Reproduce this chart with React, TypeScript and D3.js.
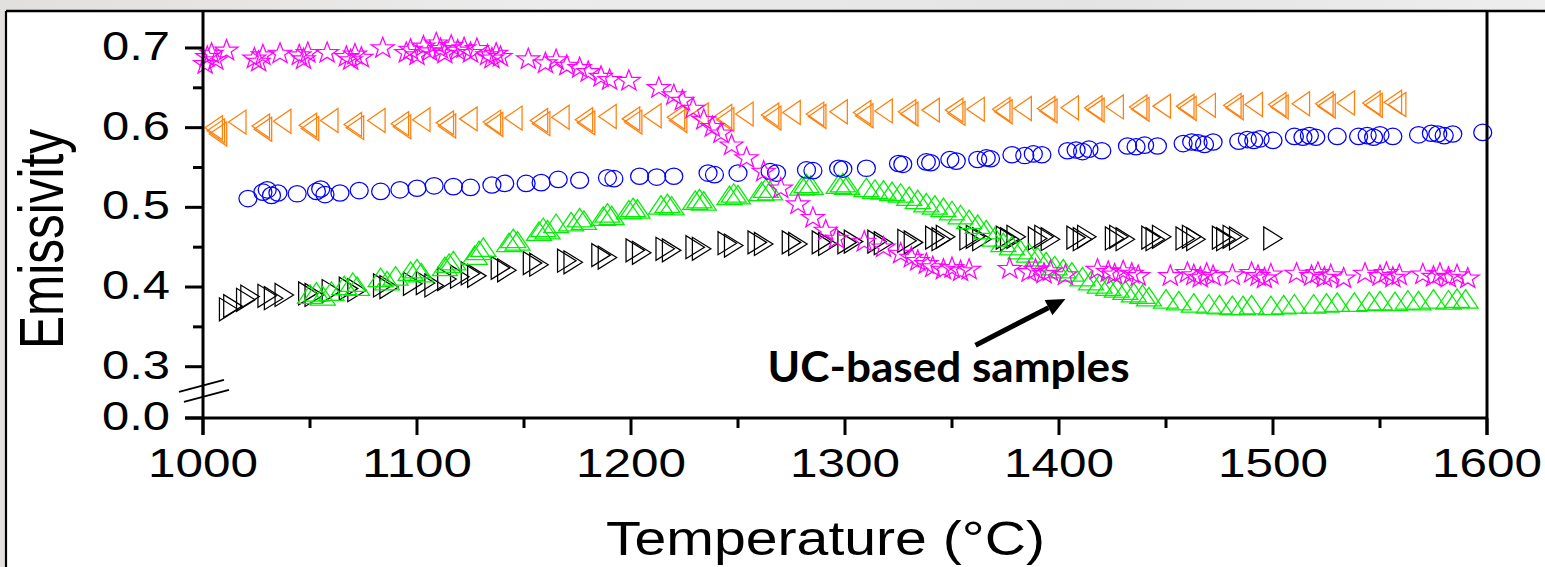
import React from 'react';
import * as d3 from 'd3';

// ---- Data: temperature (°C) vs. emissivity for five samples ----
const starSeries: [number, number][] = [
  [1001, 0.681], [1002, 0.690], [1004, 0.694], [1006, 0.686], [1011, 0.698],
  [1024, 0.688], [1026, 0.684], [1028, 0.692], [1036, 0.694],
  [1045, 0.692], [1047, 0.687], [1049, 0.695], [1058, 0.695],
  [1067, 0.690], [1069, 0.686], [1071, 0.693], [1074, 0.689],
  [1084, 0.701],
  [1095, 0.695], [1097, 0.699], [1100, 0.692], [1103, 0.703], [1106, 0.697], [1109, 0.707],
  [1111, 0.700], [1113, 0.694], [1116, 0.704], [1119, 0.698], [1122, 0.701], [1125, 0.695], [1128, 0.700],
  [1133, 0.692], [1135, 0.688], [1137, 0.694], [1139, 0.690],
  [1152, 0.687],
  [1160, 0.682], [1165, 0.686], [1170, 0.679], [1176, 0.676], [1180, 0.671], [1186, 0.665], [1190, 0.661], [1199, 0.660],
  [1213, 0.651], [1220, 0.642], [1224, 0.635], [1229, 0.625], [1234, 0.611], [1238, 0.602], [1242, 0.594], [1247, 0.579], [1254, 0.563],
  [1262, 0.546], [1270, 0.525],
  [1278, 0.505], [1285, 0.488], [1291, 0.472], [1296, 0.462], [1309, 0.458], [1318, 0.451], [1326, 0.443], [1331, 0.438],
  [1334, 0.434], [1338, 0.430], [1341, 0.426], [1346, 0.423], [1350, 0.425], [1354, 0.421], [1358, 0.423],
  [1377, 0.424], [1386, 0.420], [1389, 0.423], [1393, 0.418], [1396, 0.421], [1403, 0.416],
  [1418, 0.423], [1423, 0.420], [1426, 0.417], [1430, 0.421], [1434, 0.418], [1437, 0.415],
  [1452, 0.415], [1460, 0.419], [1463, 0.416], [1466, 0.413], [1469, 0.418], [1472, 0.415],
  [1481, 0.416], [1490, 0.419], [1493, 0.415], [1496, 0.412], [1499, 0.417],
  [1511, 0.418], [1518, 0.415], [1521, 0.419], [1524, 0.413], [1527, 0.416], [1533, 0.412],
  [1543, 0.418], [1550, 0.415], [1553, 0.419], [1556, 0.413], [1559, 0.416],
  [1570, 0.417], [1575, 0.414], [1578, 0.418], [1582, 0.413], [1586, 0.416], [1591, 0.412],
];

const leftTriSeries: [number, number][] = [
  [1005, 0.600], [1006, 0.596], [1007, 0.592], [1016, 0.607],
  [1027, 0.602], [1028, 0.598], [1037, 0.608],
  [1049, 0.603], [1050, 0.599], [1059, 0.609],
  [1070, 0.604], [1071, 0.600], [1081, 0.609],
  [1092, 0.605], [1093, 0.601], [1102, 0.610],
  [1113, 0.606], [1114, 0.602], [1124, 0.611],
  [1135, 0.607], [1136, 0.604], [1145, 0.612],
  [1157, 0.609], [1158, 0.605], [1167, 0.613],
  [1178, 0.610], [1179, 0.606], [1189, 0.614],
  [1200, 0.611], [1201, 0.607], [1210, 0.615],
  [1221, 0.613], [1222, 0.609], [1232, 0.616],
  [1243, 0.614], [1244, 0.610], [1253, 0.617],
  [1265, 0.616], [1266, 0.612], [1275, 0.619],
  [1286, 0.617], [1287, 0.614], [1297, 0.620],
  [1308, 0.619], [1309, 0.615], [1318, 0.621],
  [1329, 0.620], [1330, 0.617], [1340, 0.622],
  [1351, 0.622], [1352, 0.618], [1361, 0.623],
  [1373, 0.623], [1374, 0.620], [1383, 0.624],
  [1394, 0.624], [1395, 0.621], [1405, 0.625],
  [1416, 0.625], [1417, 0.622], [1426, 0.626],
  [1437, 0.626], [1438, 0.623], [1448, 0.627],
  [1459, 0.627], [1460, 0.624], [1469, 0.628],
  [1481, 0.628], [1482, 0.625], [1491, 0.629],
  [1502, 0.629], [1503, 0.626], [1513, 0.630],
  [1524, 0.630], [1525, 0.627], [1534, 0.631],
  [1546, 0.631], [1547, 0.628], [1556, 0.632], [1558, 0.629],
];

const circleSeries: [number, number][] = [
  [1021, 0.511], [1028, 0.519], [1030, 0.522], [1032, 0.515], [1035, 0.518], [1044, 0.517],
  [1053, 0.520], [1055, 0.523], [1057, 0.516], [1064, 0.518], [1073, 0.521], [1083, 0.520],
  [1092, 0.522], [1100, 0.524], [1108, 0.527], [1117, 0.526], [1125, 0.525], [1135, 0.528],
  [1141, 0.530], [1151, 0.530], [1158, 0.531], [1166, 0.535], [1176, 0.534], [1189, 0.537],
  [1192, 0.536], [1204, 0.539], [1212, 0.538], [1220, 0.539], [1236, 0.543], [1239, 0.541],
  [1250, 0.543], [1265, 0.545], [1268, 0.543], [1282, 0.547], [1285, 0.546], [1297, 0.549],
  [1299, 0.548], [1310, 0.549], [1325, 0.555], [1327, 0.554], [1338, 0.557], [1340, 0.556],
  [1349, 0.560], [1352, 0.558], [1362, 0.560], [1366, 0.562], [1368, 0.561], [1378, 0.566],
  [1384, 0.565], [1388, 0.567], [1392, 0.566], [1404, 0.571], [1408, 0.572], [1411, 0.570],
  [1414, 0.573], [1420, 0.571], [1432, 0.577], [1436, 0.576], [1440, 0.578], [1446, 0.577],
  [1458, 0.580], [1462, 0.582], [1465, 0.581], [1468, 0.579], [1472, 0.582], [1484, 0.583],
  [1488, 0.585], [1491, 0.584], [1494, 0.586], [1500, 0.584], [1510, 0.589], [1514, 0.588],
  [1517, 0.590], [1520, 0.588], [1530, 0.589], [1540, 0.589], [1544, 0.590], [1547, 0.588],
  [1550, 0.591], [1556, 0.589], [1568, 0.591], [1574, 0.593], [1577, 0.592], [1580, 0.590],
  [1584, 0.592], [1598, 0.594],
];

const upTriSeries: [number, number][] = [
  [1050, 0.391], [1053, 0.394], [1056, 0.389], [1060, 0.395], [1066, 0.402], [1070, 0.406],
  [1072, 0.401], [1083, 0.412], [1086, 0.408], [1090, 0.414], [1097, 0.420], [1100, 0.423],
  [1102, 0.418], [1113, 0.426], [1115, 0.430], [1117, 0.433], [1127, 0.440], [1129, 0.446],
  [1131, 0.450], [1143, 0.456], [1145, 0.461], [1147, 0.458], [1157, 0.470], [1159, 0.475],
  [1161, 0.472], [1165, 0.480], [1172, 0.482], [1176, 0.487], [1178, 0.484], [1187, 0.489],
  [1189, 0.493], [1191, 0.490], [1199, 0.497], [1201, 0.500], [1203, 0.498], [1214, 0.503],
  [1217, 0.505], [1219, 0.502], [1230, 0.509], [1232, 0.511], [1234, 0.508], [1246, 0.515],
  [1248, 0.518], [1250, 0.516], [1261, 0.520], [1263, 0.524], [1265, 0.521], [1280, 0.527],
  [1282, 0.530], [1284, 0.528], [1297, 0.529], [1299, 0.531], [1301, 0.528], [1310, 0.525],
  [1314, 0.523], [1318, 0.522], [1322, 0.520], [1326, 0.518], [1330, 0.514], [1334, 0.510],
  [1338, 0.506], [1342, 0.503], [1346, 0.500], [1350, 0.496], [1354, 0.491], [1358, 0.485],
  [1362, 0.479], [1366, 0.472], [1370, 0.463], [1374, 0.456], [1378, 0.452], [1382, 0.447],
  [1386, 0.443], [1390, 0.438], [1394, 0.432], [1398, 0.427], [1402, 0.423], [1406, 0.419],
  [1411, 0.413], [1415, 0.408], [1419, 0.404], [1423, 0.401], [1427, 0.399], [1431, 0.396],
  [1435, 0.393], [1439, 0.391], [1442, 0.388], [1450, 0.385], [1456, 0.383], [1463, 0.380],
  [1470, 0.379], [1475, 0.378], [1481, 0.377], [1486, 0.377], [1490, 0.378], [1499, 0.377],
  [1505, 0.378], [1510, 0.379], [1519, 0.379], [1525, 0.380], [1530, 0.381], [1538, 0.381],
  [1545, 0.382], [1550, 0.383], [1557, 0.382], [1563, 0.384], [1568, 0.383], [1575, 0.385],
  [1582, 0.384], [1586, 0.386], [1590, 0.385],
];

const rightTriSeries: [number, number][] = [
  [1012, 0.372], [1014, 0.376], [1020, 0.384], [1022, 0.388], [1030, 0.389], [1033, 0.386],
  [1038, 0.390], [1049, 0.392], [1052, 0.390], [1060, 0.395], [1068, 0.398], [1072, 0.396],
  [1084, 0.402], [1087, 0.400], [1098, 0.404], [1104, 0.405], [1108, 0.402], [1114, 0.410],
  [1120, 0.413], [1125, 0.417], [1128, 0.414], [1139, 0.424], [1142, 0.421], [1154, 0.430],
  [1157, 0.428], [1170, 0.433], [1173, 0.431], [1186, 0.440], [1189, 0.437], [1202, 0.446],
  [1205, 0.443], [1216, 0.448], [1219, 0.446], [1230, 0.450], [1233, 0.448], [1245, 0.455],
  [1248, 0.452], [1259, 0.456], [1262, 0.454], [1275, 0.456], [1278, 0.454], [1289, 0.456],
  [1292, 0.454], [1301, 0.456], [1304, 0.457], [1315, 0.457], [1318, 0.455], [1329, 0.458],
  [1332, 0.456], [1342, 0.462], [1345, 0.460], [1347, 0.463], [1358, 0.461], [1361, 0.463],
  [1364, 0.460], [1375, 0.462], [1377, 0.460], [1380, 0.463], [1390, 0.461], [1393, 0.463],
  [1396, 0.460], [1408, 0.462], [1411, 0.460], [1413, 0.463], [1426, 0.461], [1428, 0.463],
  [1431, 0.460], [1443, 0.462], [1445, 0.460], [1448, 0.463], [1459, 0.461], [1462, 0.463],
  [1464, 0.460], [1476, 0.462], [1478, 0.460], [1481, 0.463], [1484, 0.461], [1500, 0.461],
];

// ---- Axes ----
const xTicks = [1000, 1100, 1200, 1300, 1400, 1500, 1600];
const xMinorTicks = [1050, 1150, 1250, 1350, 1450, 1550];
const yTicks = [0.0, 0.3, 0.4, 0.5, 0.6, 0.7];
const yMinorTicks = [0.35, 0.45, 0.55, 0.65];
const xDomain = [1000, 1600];
const yBreakValue = 0.3;
const yTop = 0.7464;

const xTitle = 'Temperature (°C)';
const yTitle = 'Emissivity';
const noteText = 'UC-based samples';
// arrow in data coordinates: tail, head
const arrowFrom: [number, number] = [1361, 0.327];
const arrowTo: [number, number] = [1403, 0.385];

// ---- Layout ----
const W = 1545;
const H = 567;
const PLOT = { left: 203, right: 1487, top: 11, bottom: 418 };
const BREAK_SPAN = 51.3; // pixels given to the 0 – 0.3 segment below the axis break
const FONT = '"Liberation Sans", Arial, Helvetica, sans-serif';

type Shape = 'star' | 'left' | 'circle' | 'up' | 'right';

function markerPath(shape: Shape, cx: number, cy: number): string {
  switch (shape) {
    case 'star': {
      const R = 11, r = 4.4, sx = 1.1;
      const pts: string[] = [];
      for (let k = 0; k < 10; k++) {
        const a = -Math.PI / 2 + (k * Math.PI) / 5;
        const rad = k % 2 === 0 ? R : r;
        pts.push(`${(cx + sx * rad * Math.cos(a)).toFixed(2)},${(cy + 1 + rad * Math.sin(a)).toFixed(2)}`);
      }
      return `M${pts.join('L')}Z`;
    }
    case 'left': {
      const w = 17.5, h = 24;
      return `M${cx - w / 2},${cy}L${cx + w / 2},${cy - h / 2}L${cx + w / 2},${cy + h / 2}Z`;
    }
    case 'right': {
      const w = 18.5, h = 23;
      return `M${cx + w / 2},${cy}L${cx - w / 2},${cy - h / 2}L${cx - w / 2},${cy + h / 2}Z`;
    }
    case 'up': {
      const w = 25, h = 18.5;
      return `M${cx},${cy - h / 2}L${cx + w / 2},${cy + h / 2}L${cx - w / 2},${cy + h / 2}Z`;
    }
    case 'circle':
    default: {
      const rx = 9, ry = 8.2;
      return `M${cx - rx},${cy}A${rx},${ry} 0 1,0 ${cx + rx},${cy}A${rx},${ry} 0 1,0 ${cx - rx},${cy}Z`;
    }
  }
}

const series: { key: string; data: [number, number][]; color: string; shape: Shape }[] = [
  { key: 'right', data: rightTriSeries, color: '#000000', shape: 'right' },
  { key: 'up', data: upTriSeries, color: '#00ee00', shape: 'up' },
  { key: 'circle', data: circleSeries, color: '#0000ff', shape: 'circle' },
  { key: 'left', data: leftTriSeries, color: '#ff7f0a', shape: 'left' },
  { key: 'star', data: starSeries, color: '#ff00ff', shape: 'star' },
];

export default function App() {
  const x = d3.scaleLinear().domain(xDomain).range([PLOT.left, PLOT.right]);
  const y = d3
    .scaleLinear()
    .domain([0, yBreakValue, yTop])
    .range([PLOT.bottom, PLOT.bottom - BREAK_SPAN, PLOT.top]);
  const fmt = d3.format('.1f');

  const majorLen = 18;
  const minorLen = 10;
  const axisW = 3;

  // axis break marks, between 0.0 and 0.3
  const breakMid = (y(0) + y(yBreakValue)) / 2 - 2;
  const breakLines = [breakMid - 5, breakMid + 5];

  // arrow geometry
  const ax0 = x(arrowFrom[0]), ay0 = y(arrowFrom[1]);
  const ax1 = x(arrowTo[0]), ay1 = y(arrowTo[1]);
  const len = Math.hypot(ax1 - ax0, ay1 - ay0);
  const ux = (ax1 - ax0) / len, uy = (ay1 - ay0) / len;
  const nx = -uy, ny = ux;
  const headL = 19, headW = 8.5;
  const bx = ax1 - ux * headL, by = ay1 - uy * headL;

  return (
    <svg
      width={W}
      height={H}
      viewBox={`0 0 ${W} ${H}`}
      style={{ position: 'absolute', left: 0, top: 0, display: 'block' }}
    >
      <defs>
        <linearGradient id="bgGrad" x1="0" y1="0" x2="1" y2="0">
          <stop offset="0" stopColor="#e2e0de" />
          <stop offset="0.35" stopColor="#ececec" />
          <stop offset="0.7" stopColor="#e4e4e4" />
          <stop offset="1" stopColor="#eeeeee" />
        </linearGradient>
      </defs>
      <rect x={0} y={0} width={W} height={H} fill="url(#bgGrad)" />
      <rect x={6} y={11} width={W - 6} height={H - 11} fill="#ffffff" />
      {/* panel frame */}
      <line x1={6} x2={W} y1={11} y2={11} stroke="#000" strokeWidth={2.5} />
      <line x1={6} x2={6} y1={11} y2={H} stroke="#000" strokeWidth={2.2} />

      {/* scatter markers */}
      <g fill="none" strokeWidth={1.25}>
        {series.map((s) => (
          <g key={s.key} stroke={s.color}>
            {s.data.map(([t, v], i) => (
              <path key={i} d={markerPath(s.shape, x(t), y(v))} />
            ))}
          </g>
        ))}
      </g>

      {/* axes */}
      <g stroke="#000" strokeWidth={axisW} strokeLinecap="butt">
        <line x1={PLOT.left} x2={PLOT.left} y1={PLOT.top} y2={PLOT.bottom + majorLen - 1} />
        <line x1={PLOT.right} x2={PLOT.right} y1={PLOT.top} y2={PLOT.bottom + majorLen - 1} />
        <line x1={PLOT.left - majorLen} x2={PLOT.right} y1={PLOT.bottom} y2={PLOT.bottom} />
        {xTicks.map((t) => (
          <line key={`xt${t}`} x1={x(t)} x2={x(t)} y1={PLOT.bottom} y2={PLOT.bottom + majorLen - 1} />
        ))}
        {xMinorTicks.map((t) => (
          <line key={`xm${t}`} x1={x(t)} x2={x(t)} y1={PLOT.bottom} y2={PLOT.bottom + minorLen} />
        ))}
        {yTicks.map((v) => (
          <line key={`yt${v}`} x1={PLOT.left - majorLen} x2={PLOT.left} y1={y(v)} y2={y(v)} />
        ))}
        {yMinorTicks.map((v) => (
          <line key={`ym${v}`} x1={PLOT.left - minorLen} x2={PLOT.left} y1={y(v)} y2={y(v)} />
        ))}
      </g>

      {/* axis break */}
      <g stroke="#000" strokeWidth={2}>
        {breakLines.map((by0, i) => (
          <line
            key={i}
            x1={PLOT.left - 24 + i * 5}
            y1={by0 + 6.5}
            x2={PLOT.left + 21 + i * 5}
            y2={by0 - 5.5}
          />
        ))}
      </g>

      {/* tick labels */}
      <g fontFamily={FONT} fontSize={41} fill="#000">
        {yTicks.map((v) => (
          <text
            key={`yl${v}`}
            x={170 - 68}
            y={y(v) + 12}
            textLength={68}
            lengthAdjust="spacingAndGlyphs"
          >
            {fmt(v)}
          </text>
        ))}
        {xTicks.map((t) => (
          <text
            key={`xl${t}`}
            x={x(t) - 55}
            y={PLOT.bottom + 59}
            textLength={110}
            lengthAdjust="spacingAndGlyphs"
          >
            {t}
          </text>
        ))}
      </g>

      {/* axis titles */}
      <text
        x={606}
        y={555}
        fontFamily={FONT}
        fontSize={49}
        textLength={439}
        lengthAdjust="spacingAndGlyphs"
        fill="#000"
      >
        {xTitle}
      </text>
      <text
        transform={`translate(63, ${239 + 110}) rotate(-90)`}
        x={0}
        y={0}
        fontFamily={FONT}
        fontSize={63}
        textLength={220}
        lengthAdjust="spacingAndGlyphs"
        fill="#000"
      >
        {yTitle}
      </text>

      {/* annotation */}
      <line x1={ax0} y1={ay0} x2={bx} y2={by} stroke="#000" strokeWidth={5} />
      <path
        d={`M${ax1},${ay1}L${bx + nx * headW},${by + ny * headW}L${bx - nx * headW},${by - ny * headW}Z`}
        fill="#000"
      />
      <text
        x={ax0 - 208}
        y={ay0 + 37}
        fontFamily='Lato, "Open Sans", sans-serif'
        fontWeight={700}
        fontSize={42}
        textLength={362}
        lengthAdjust="spacingAndGlyphs"
        fill="#000"
      >
        {noteText}
      </text>
    </svg>
  );
}
